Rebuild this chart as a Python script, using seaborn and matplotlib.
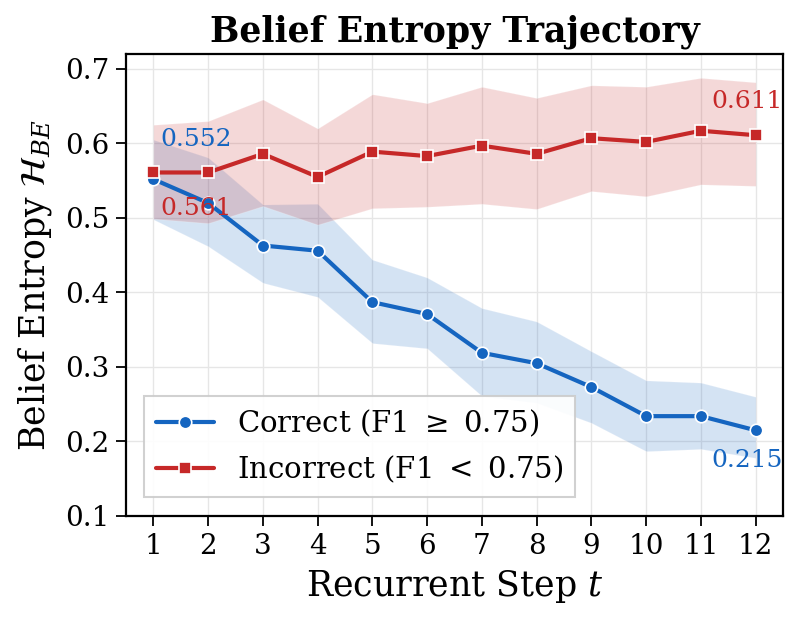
import numpy as np
import pandas as pd
import seaborn as sns
import matplotlib.pyplot as plt

# Данные
steps = list(range(1, 13))
correct_mean = [0.552, 0.520, 0.463, 0.456, 0.387, 0.371, 0.319, 0.305, 0.273, 0.234, 0.234, 0.215]
correct_upper = [0.605, 0.581, 0.518, 0.519, 0.444, 0.420, 0.379, 0.361, 0.321, 0.282, 0.279, 0.260]
correct_lower = [0.498, 0.462, 0.413, 0.394, 0.332, 0.325, 0.261, 0.252, 0.225, 0.187, 0.190, 0.178]
incorrect_mean = [0.561, 0.561, 0.586, 0.555, 0.589, 0.583, 0.597, 0.586, 0.607, 0.602, 0.617, 0.611]
incorrect_upper = [0.625, 0.630, 0.659, 0.620, 0.666, 0.654, 0.676, 0.661, 0.678, 0.676, 0.688, 0.682]
incorrect_lower = [0.499, 0.493, 0.516, 0.491, 0.513, 0.515, 0.519, 0.512, 0.536, 0.529, 0.545, 0.543]

groups = ['Correct (F1 $\\geq$ 0.75)', 'Incorrect (F1 $<$ 0.75)']
blue = '#1565C0'
red = '#C62828'

df = pd.DataFrame({
    'step': steps * 2,
    'entropy': correct_mean + incorrect_mean,
    'group': [groups[0]] * 12 + [groups[1]] * 12,
})

sns.set_theme(style='whitegrid')
plt.rcParams['font.family'] = ['DejaVu Serif']
plt.rcParams['mathtext.fontset'] = 'dejavuserif'
plt.rcParams['text.color'] = 'black'
plt.rcParams['axes.labelcolor'] = 'black'
plt.rcParams['xtick.color'] = 'black'
plt.rcParams['ytick.color'] = 'black'

fig = plt.figure(figsize=(7.94, 6.22), dpi=100)
ax = fig.add_axes([126 / 794, 1 - 516 / 622, (783 - 126) / 794, (516 - 54) / 622])

# Полосы разброса
ax.fill_between(steps, correct_lower, correct_upper, color=blue, alpha=0.18,
                edgecolor='white', linewidth=0.8, zorder=1)
ax.fill_between(steps, incorrect_lower, incorrect_upper, color=red, alpha=0.18,
                edgecolor='white', linewidth=0.8, zorder=1)

sns.lineplot(data=df, x='step', y='entropy', hue='group', style='group',
             markers={groups[0]: 'o', groups[1]: 's'}, dashes=False,
             palette={groups[0]: blue, groups[1]: red},
             linewidth=3.0, markersize=9, markeredgecolor='white', markeredgewidth=1.2,
             ax=ax, zorder=3)

# Подписи значений
ax.text(1.13, 0.605, f'{correct_mean[0]:.3f}', color=blue, fontsize=18, ha='left', va='center')
ax.text(1.13, 0.513, f'{incorrect_mean[0]:.3f}', color=red, fontsize=18, ha='left', va='center')
ax.text(11.2, 0.656, f'{incorrect_mean[-1]:.3f}', color=red, fontsize=18, ha='left', va='center')
ax.text(11.2, 0.175, f'{correct_mean[-1]:.3f}', color=blue, fontsize=18, ha='left', va='center')

ax.set_xlim(0.5, 12.5)
ax.set_ylim(0.1, 0.72)
ax.set_xticks(steps)
ax.set_yticks([0.1, 0.2, 0.3, 0.4, 0.5, 0.6, 0.7])
ax.tick_params(axis='both', labelsize=20, length=7, width=1.3, color='black',
               bottom=True, left=True, direction='out', pad=5)
for s in ax.spines.values():
    s.set_color('black')
    s.set_linewidth(1.6)
ax.grid(True, color='#e6e6e6', linewidth=1.0)

ax.set_title('Belief Entropy Trajectory', fontsize=25, fontweight='bold', pad=9)
ax.set_xlabel('Recurrent Step $t$', fontsize=25, labelpad=6)
ax.set_ylabel('Belief Entropy $\\mathcal{H}_{BE}$', fontsize=25, labelpad=8)

leg = ax.legend(loc='lower left', fontsize=21, frameon=True, fancybox=False,
                edgecolor='#cccccc', framealpha=0.9, borderpad=0.4,
                handlelength=2.0, bbox_to_anchor=(0.005, 0.01))
leg.get_frame().set_linewidth(1.5)

fig.savefig('out.png', dpi=100)
